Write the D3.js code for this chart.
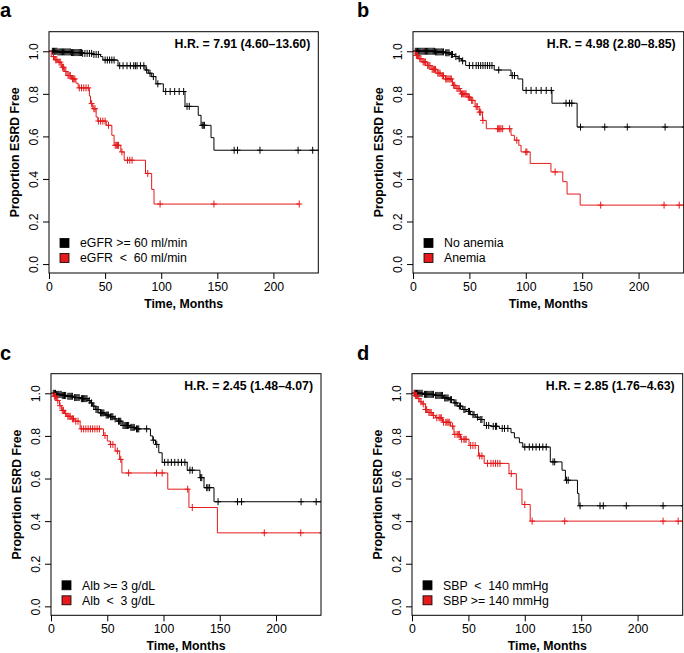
<!DOCTYPE html>
<html>
<head>
<meta charset="utf-8">
<script src="https://cdn.jsdelivr.net/npm/d3@7"></script>
<style>
  body { margin: 0; background: #fff; }
  svg { display: block; font-family: "Liberation Sans", Arial, Helvetica, sans-serif; }
</style>
</head>
<body>
<svg id="chart" width="684" height="653"></svg>
<script>
// Kaplan-Meier curves: step times (months), survival after each step, censor times

// a: eGFR
const egfrHighTime = [0, 8, 20, 30, 40, 46, 48, 61.5, 85.6, 88.5, 91.5, 95.3, 101.9, 121.2, 133, 135.5, 144.4, 147];
const egfrHighSurv = [1, 0.997, 0.994, 0.99, 0.985, 0.975, 0.959, 0.932, 0.912, 0.897, 0.881, 0.847, 0.811, 0.741, 0.699, 0.652, 0.594, 0.535];
const egfrHighCensor = [3, 4, 5, 6, 7, 8, 9, 10, 11, 12, 13, 14, 15, 16, 17, 18, 19, 20, 21, 22, 23, 24, 25, 26, 27, 28, 29, 30, 32, 34, 36, 38, 40, 42, 44,
  50, 52, 54, 56, 58, 63, 66, 69.5, 72.5, 75.5, 77, 78.5, 81.5, 84.5, 87, 90, 93, 97, 104, 108, 112, 116, 120, 123, 125, 136.5, 137.5, 138.5, 165, 168, 188, 222, 235, 241];
const egfrLowTime = [0, 2, 5, 8, 11, 14, 16, 20, 24, 26, 36, 37, 39, 42, 43.5, 51, 56, 58, 64, 67, 86, 91.5, 93.6];
const egfrLowSurv = [1, 0.975, 0.96, 0.949, 0.925, 0.905, 0.886, 0.87, 0.85, 0.828, 0.79, 0.754, 0.73, 0.691, 0.672, 0.652, 0.605, 0.558, 0.527, 0.488, 0.426, 0.351, 0.282];
const egfrLowCensor = [4, 6, 7, 9, 10, 12, 13, 15, 17, 18, 19, 21, 22, 23, 27, 29, 31, 33, 35, 38, 40, 41, 44, 46, 48, 50, 53, 59, 60, 61, 62, 65, 70, 72, 74, 88, 99, 147, 223];

// b: anemia
const noAnemiaTime = [0, 20, 28, 33, 37, 40, 43, 46.7, 72, 86.9, 93, 97.3, 123.2, 145.5];
const noAnemiaSurv = [1, 0.997, 0.993, 0.985, 0.975, 0.965, 0.955, 0.933, 0.912, 0.886, 0.87, 0.816, 0.756, 0.644];
const noAnemiaCensor = [2, 3, 4, 5, 6, 7, 8, 9, 10, 11, 12, 13, 14, 15, 16, 17, 18, 19, 20, 21, 22, 23, 24, 25, 26, 27, 29, 30, 31, 32, 34, 35, 38, 41, 44,
  50, 53, 56, 58, 60, 62, 64, 66, 68, 70, 76, 88, 90, 100.3, 104.7, 109.2, 113.6, 118.1, 122.6, 135.7, 138.7, 140.8, 148.5, 170, 190, 223.5, 241];
const anemiaTime = [0, 2, 5, 8, 12.5, 16, 21.4, 25, 28.9, 35, 38, 42, 48, 51.2, 55, 58.6, 61.6, 65, 86.9, 89.9, 93.8, 95.8, 103.9, 122.3, 132.8, 136.6, 148.2];
const anemiaSurv = [1, 0.98, 0.965, 0.95, 0.933, 0.915, 0.897, 0.885, 0.87, 0.84, 0.825, 0.8, 0.785, 0.769, 0.74, 0.714, 0.675, 0.636, 0.605, 0.582, 0.558, 0.527, 0.473, 0.433, 0.387, 0.329, 0.277];
const anemiaCensor = [3, 4, 6, 7, 9, 10, 11, 13, 14, 15, 17, 18, 19, 20, 22, 23, 24, 26, 27, 29, 30, 31, 32, 33, 34, 36, 37, 39, 40, 41, 43, 44, 45, 46, 47,
  49, 50, 52, 53, 56, 57, 59, 60, 62, 75, 76, 77, 78, 79.5, 85.7, 92, 100, 101, 126, 166.4, 222.6, 236, 241];

// c: albumin
const albHighTime = [0, 5, 10, 14, 20, 26, 33, 35, 37, 39.3, 43.8, 48, 52.7, 56, 58.6, 63.1, 70, 75, 88.4, 90.5, 92.9, 95.8, 98.8, 121.1, 132.4, 136, 144.9];
const albHighSurv = [1, 0.995, 0.99, 0.986, 0.98, 0.975, 0.966, 0.955, 0.94, 0.924, 0.908, 0.898, 0.89, 0.88, 0.869, 0.849, 0.84, 0.833, 0.8, 0.78, 0.76, 0.721, 0.676, 0.639, 0.604, 0.557, 0.491];
const albHighCensor = [2, 3, 4, 5, 6, 7, 8, 9, 10, 11, 12, 13, 15, 16, 17, 18, 19, 21, 22, 23, 24, 25, 27, 28, 29, 30, 31, 32, 34, 36, 38, 40, 41, 42, 44, 45, 46, 47,
  49, 50, 51, 53, 54, 55, 57, 60, 61, 62, 64, 65, 66, 67, 68, 69, 71, 72, 73, 74, 76, 77, 78, 85, 91, 94, 101, 104, 107, 110, 113, 116, 119, 123.5, 125.6,
  133, 134, 138.4, 139.5, 141, 148.5, 165.8, 169.4, 222.3, 235.7, 241];
const albLowTime = [0, 2, 5, 7.5, 9.5, 12, 14, 18, 21.4, 25.9, 46.7, 50, 52.7, 57, 61, 63, 103.8, 122.6, 147.9];
const albLowSurv = [1, 0.986, 0.966, 0.942, 0.92, 0.905, 0.892, 0.88, 0.869, 0.833, 0.802, 0.776, 0.76, 0.729, 0.69, 0.626, 0.55, 0.464, 0.345];
const albLowCensor = [3, 4, 6, 8, 10, 11, 13, 15, 16, 17, 19, 20, 22, 24, 27, 29, 31, 33, 35, 37, 39, 41, 43, 48, 53, 55, 59, 62, 69, 93.8, 98.8, 121.5, 125.6, 189.6, 222, 241];

// d: systolic blood pressure
const sbpLowTime = [0, 10, 20, 28, 33, 37.2, 40, 44.6, 48, 52, 56.5, 59.5, 64, 70, 77.4, 87.8, 90.8, 95.2, 98.2, 122.6, 133, 136, 146.7, 148];
const sbpLowSurv = [1, 0.995, 0.99, 0.978, 0.97, 0.955, 0.94, 0.924, 0.915, 0.9, 0.888, 0.877, 0.849, 0.845, 0.835, 0.815, 0.791, 0.768, 0.748, 0.678, 0.639, 0.592, 0.53, 0.472];
const sbpLowCensor = [2, 3, 4, 5, 6, 7, 8, 9, 11, 12, 13, 14, 15, 16, 17, 18, 19, 21, 22, 23, 24, 25, 26, 27, 29, 30, 31, 32, 34, 35, 38, 39, 42, 43, 46, 47,
  50, 51, 54, 55, 58, 61, 62, 66, 68, 72, 74, 75, 80, 82, 85, 100, 104, 107, 110, 113, 116, 119, 125, 126.5, 137, 138.5, 149, 166.7, 169.6, 190, 222.6, 241];
const sbpHighTime = [0, 3, 5, 7, 9, 11.9, 14, 18, 20.8, 27, 34.2, 37.2, 43, 50.6, 59, 64, 86, 92.5, 97.5, 104.8];
const sbpHighSurv = [1, 0.99, 0.975, 0.96, 0.95, 0.924, 0.91, 0.896, 0.885, 0.864, 0.846, 0.807, 0.784, 0.755, 0.706, 0.671, 0.623, 0.55, 0.478, 0.4];
const sbpHighCensor = [2, 3, 4, 6, 8, 10, 12, 13, 15, 16, 17, 19, 22, 24, 25, 26, 28, 30, 31, 32, 33, 36, 38, 40, 41, 42, 44, 46, 47, 48, 52, 54, 56, 60, 62,
  67, 70, 72, 74, 76, 78, 88, 100, 106.5, 135.4, 222.6, 236, 241];

const xTicks = [0, 50, 100, 150, 200];
const yTicks = [0, 0.2, 0.4, 0.6, 0.8, 1.0];

const RED = "#e41a1c";

const panels = [
  { letter: "a", hr: "H.R. = 7.91 (4.60\u201313.60)", legend: ["eGFR >= 60 ml/min", "eGFR  <  60 ml/min"],
    series: [{ time: egfrHighTime, surv: egfrHighSurv, censor: egfrHighCensor, color: "#000" },
             { time: egfrLowTime, surv: egfrLowSurv, censor: egfrLowCensor, color: RED }],
    box: { left: 49, top: 31.7, right: 318.3, bottom: 273 }, lx: 0, ly: 17 },
  { letter: "b", hr: "H.R. = 4.98 (2.80\u20138.85)", legend: ["No anemia", "Anemia"],
    series: [{ time: noAnemiaTime, surv: noAnemiaSurv, censor: noAnemiaCensor, color: "#000" },
             { time: anemiaTime, surv: anemiaSurv, censor: anemiaCensor, color: RED }],
    box: { left: 413, top: 31.7, right: 683.7, bottom: 273 }, lx: 357, ly: 17 },
  { letter: "c", hr: "H.R. = 2.45 (1.48\u20134.07)", legend: ["Alb >= 3 g/dL", "Alb  <  3 g/dL"],
    series: [{ time: albHighTime, surv: albHighSurv, censor: albHighCensor, color: "#000" },
             { time: albLowTime, surv: albLowSurv, censor: albLowCensor, color: RED }],
    box: { left: 51, top: 373.7, right: 321, bottom: 615.3 }, lx: 0, ly: 359.5 },
  { letter: "d", hr: "H.R. = 2.85 (1.76\u20134.63)", legend: ["SBP  <  140 mmHg", "SBP >= 140 mmHg"],
    series: [{ time: sbpLowTime, surv: sbpLowSurv, censor: sbpLowCensor, color: "#000" },
             { time: sbpHighTime, surv: sbpHighSurv, censor: sbpHighCensor, color: RED }],
    box: { left: 412, top: 373.7, right: 682.7, bottom: 615.3 }, lx: 357, ly: 360 }
];

const svg = d3.select("#chart");
const fs = 12.3;

panels.forEach((p, pi) => {
  const b = p.box;
  const x = d3.scaleLinear().domain([0, 240]).range([b.left, b.right]);
  const y = d3.scaleLinear().domain([-0.042, 1.092]).range([b.bottom, b.top]);

  const g = svg.append("g");

  // panel letter
  g.append("text")
    .attr("x", p.lx).attr("y", p.ly)
    .style("font-size", "20px").style("font-weight", "bold")
    .text(p.letter);

  // clip for curves
  svg.append("clipPath").attr("id", "clip" + pi)
    .append("rect")
    .attr("x", b.left).attr("y", b.top)
    .attr("width", b.right - b.left).attr("height", b.bottom - b.top);

  // x axis
  const xa = g.append("g")
    .attr("transform", `translate(0,${b.bottom})`)
    .call(d3.axisBottom(x).tickValues(xTicks).tickSize(6).tickSizeOuter(0));
  xa.select(".domain").remove();
  xa.selectAll("text").attr("y", 17.7).attr("dy", 0)
    .style("font-size", fs + "px").style("font-family", "Liberation Sans, Arial, sans-serif");

  // y axis, labels parallel to the axis
  const ya = g.append("g")
    .attr("transform", `translate(${b.left},0)`)
    .call(d3.axisLeft(y).tickValues(yTicks).tickFormat(d3.format(".1f")).tickSize(6).tickSizeOuter(0));
  ya.select(".domain").remove();
  ya.selectAll("text")
    .attr("transform", "rotate(-90)")
    .attr("x", 0).attr("y", -10.7).attr("dy", 0)
    .attr("text-anchor", "middle")
    .style("font-size", fs + "px").style("font-family", "Liberation Sans, Arial, sans-serif");

  // axis titles
  g.append("text")
    .attr("x", (b.left + b.right) / 2).attr("y", b.bottom + 35)
    .attr("text-anchor", "middle")
    .style("font-size", fs + "px").style("font-weight", "bold")
    .text("Time, Months");
  g.append("text")
    .attr("transform", `translate(${b.left - 30},${(b.top + b.bottom) / 2}) rotate(-90)`)
    .attr("text-anchor", "middle")
    .style("font-size", fs + "px").style("font-weight", "bold")
    .text("Proportion ESRD Free");

  // curves
  const curves = g.append("g").attr("clip-path", `url(#clip${pi})`);
  const line = d3.line().x(d => x(d[0])).y(d => y(d[1])).curve(d3.curveStepAfter);

  p.series.forEach(s => {
    const pts = s.time.map((t, i) => [t, s.surv[i]]);
    const end = Math.max(d3.max(s.censor), d3.max(s.time));
    pts.push([end, s.surv[s.surv.length - 1]]);
    curves.append("path")
      .datum(pts)
      .attr("fill", "none")
      .attr("stroke", s.color)
      .attr("stroke-width", 1)
      .attr("d", line);

    const survAt = t => s.surv[Math.max(d3.bisectRight(s.time, t) - 1, 0)];
    curves.selectAll(null)
      .data(s.censor)
      .enter().append("path")
      .attr("fill", "none")
      .attr("stroke", s.color)
      .attr("stroke-width", 1)
      .attr("d", t => {
        const cx = x(t), cy = y(survAt(t));
        return `M${cx - 3},${cy}h6M${cx},${cy - 3.5}v7`;
      });
  });

  // box
  g.append("rect")
    .attr("x", b.left).attr("y", b.top)
    .attr("width", b.right - b.left).attr("height", b.bottom - b.top)
    .attr("fill", "none").attr("stroke", "#000").attr("stroke-width", 1);

  // hazard ratio
  g.append("text")
    .attr("x", b.right - 8).attr("y", b.top + 16.3)
    .attr("text-anchor", "end")
    .style("font-size", fs + "px").style("font-weight", "bold")
    .text(p.hr);

  // legend
  p.legend.forEach((lab, i) => {
    const cy = b.bottom - 30 + i * 15;
    g.append("rect")
      .attr("x", b.left + 11).attr("y", cy - 4.5)
      .attr("width", 9).attr("height", 9)
      .attr("fill", p.series[i].color)
      .attr("stroke", "#000").attr("stroke-width", 0.8);
    g.append("text")
      .attr("x", b.left + 31).attr("y", cy + 4.4)
      .attr("xml:space", "preserve")
      .style("white-space", "pre")
      .style("font-size", fs + "px")
      .text(lab);
  });
});
</script>
</body>
</html>
